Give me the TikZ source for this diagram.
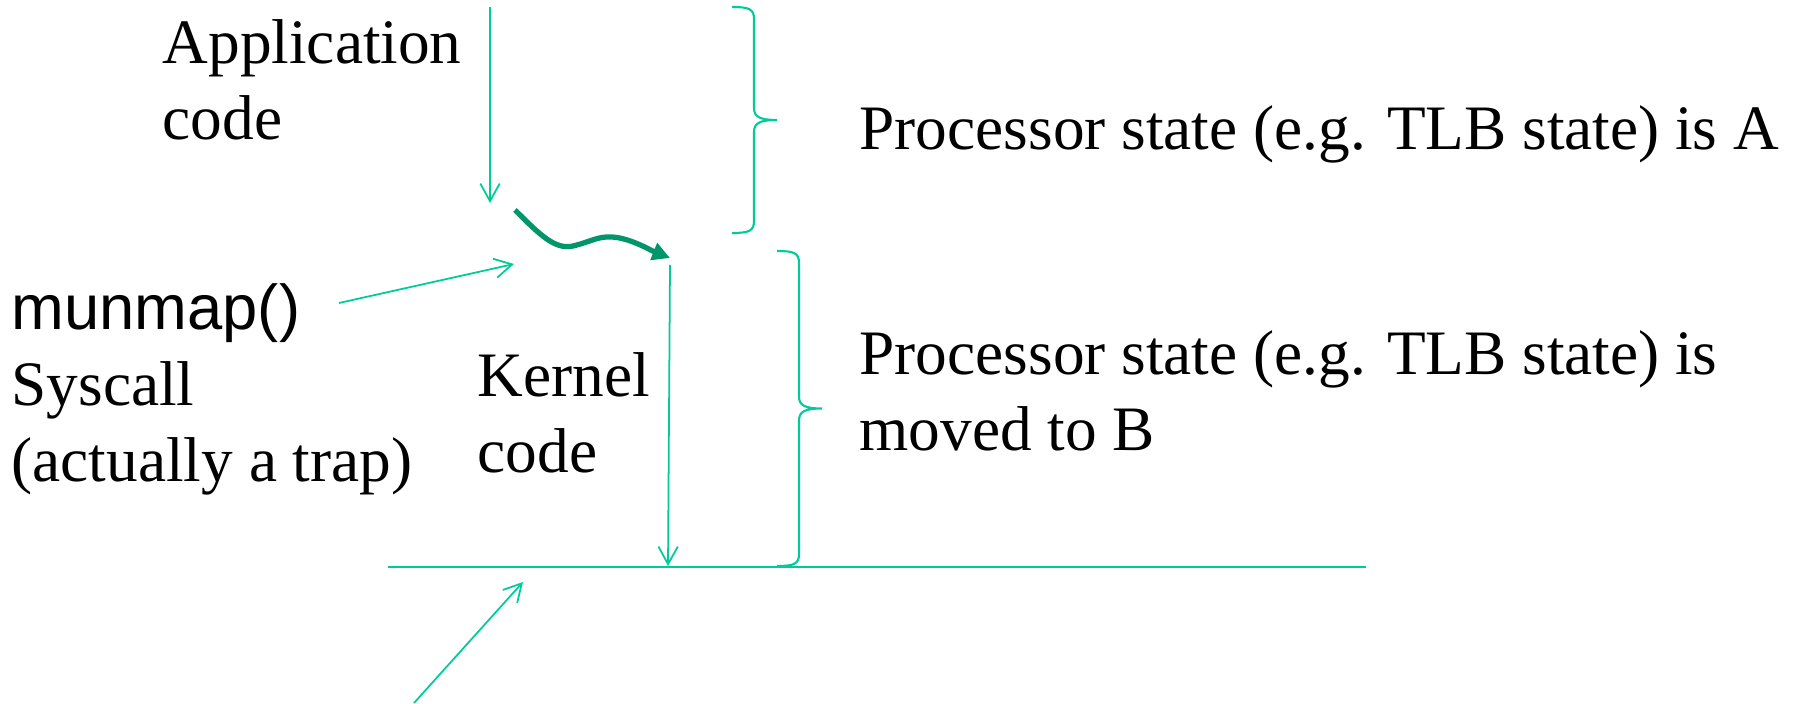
\documentclass[tikz,border=0pt]{standalone}
\usepackage{fontspec}
\setmainfont{Liberation Serif}
\newfontfamily\arialfont{Liberation Sans}
\usepackage{tikz}
\usetikzlibrary{arrows.meta}
\definecolor{tlgreen}{RGB}{0,204,153}
\definecolor{tdgreen}{RGB}{0,150,105}
% right brace: x of the ends, top y, bottom y
\newcommand{\sidebrace}[3]{%
 \draw[brc] (#1,#2) .. controls (#1+17,#2) and (#1+22,#2+2) .. (#1+22,#2+12)
  -- (#1+22,{(#2+#3)/2-12}) .. controls (#1+22,{(#2+#3)/2-3}) and (#1+28,{(#2+#3)/2}) .. (#1+45,{(#2+#3)/2})
  .. controls (#1+28,{(#2+#3)/2}) and (#1+22,{(#2+#3)/2+3}) .. (#1+22,{(#2+#3)/2+12})
  -- (#1+22,#3-12) .. controls (#1+22,#3-2) and (#1+17,#3) .. (#1,#3);}

\begin{document}
\begin{tikzpicture}[x=0.01cm, y=-0.01cm,
  txt/.style={inner sep=0pt, anchor=base west, align=left, font=\fontsize{18}{21.8}\selectfont},
  flow/.style={draw=tlgreen, line width=0.5pt, -{Straight Barb[length=5pt,width=5.5pt]}},
  brc/.style={draw=tlgreen, line width=0.6pt}]
 \useasboundingbox (0,0) rectangle (1794,704);
 % labels (base = last line)
 \node[txt] (app) at (162,140) {Application\\code};
 \node[txt] (munmap) at (11,330) {\arialfont munmap()};
 \node[txt] (sys) at (11,482) {Syscall\\(actually a trap)};
 \node[txt] (kern) at (477,473) {Kernel\\code};
 \node[txt] (stA) at (859,150) {Processor state (e.g. TLB state) is A};
 \node[txt] (stB) at (859,451) {Processor state (e.g. TLB state) is\\moved to B};
 % points on the flow
 \coordinate (appTop) at (490,7);
 \coordinate (appEnd) at (490,203);
 \coordinate (trapS) at (515,210);
 \coordinate (kTop) at (670,265);
 \coordinate (kEnd) at (668,566);
 \coordinate (callS) at (339,303);
 \coordinate (callE) at (514,264);
 \coordinate (lineL) at (388,567);
 \coordinate (lineR) at (1366,567);
 \coordinate (retS) at (414,703);
 \coordinate (retE) at (523,582);
 \draw[flow] (appTop) -- (appEnd);
 \draw[flow] (kTop) -- (kEnd);
 \draw[flow] (callS) -- (callE);
 \draw[flow] (retS) -- (retE);
 \draw[draw=tlgreen, line width=0.85pt] (lineL) -- (lineR);
 \draw[draw=tdgreen, line width=1.5pt, -{Triangle[length=5pt,width=5pt]}]
  (trapS) .. controls (540,235) and (555,250) .. (573,246)
  .. controls (590,242) and (598,236) .. (612,237)
  .. controls (630,238) and (650,250) .. (670,258);
 % braces
 \sidebrace{732}{7}{233}
 \sidebrace{777}{251}{566}
\end{tikzpicture}
\end{document}
